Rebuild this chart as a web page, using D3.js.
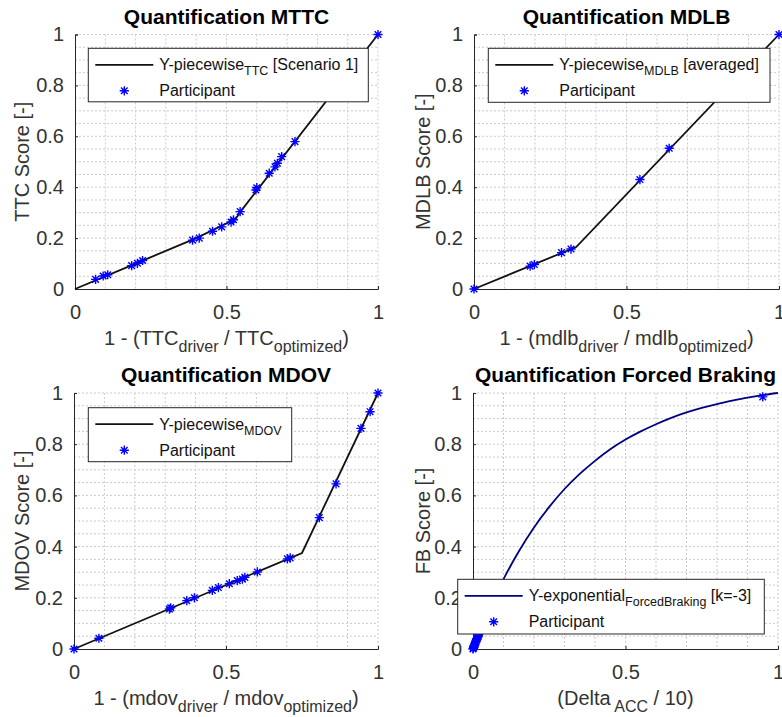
<!DOCTYPE html>
<html>
<head>
<meta charset="utf-8">
<script src="https://cdn.jsdelivr.net/npm/d3@7"></script>
<style>
    body { margin: 0; background: #fff; }
    svg { display: block; font-family: "Liberation Sans", Arial, Helvetica, sans-serif; }
</style>
</head>
<body>
<svg id="chart" width="782" height="717"></svg>
<script>
const WIDTH = 782
const HEIGHT = 717

// tick values shared by all panels
const xTicks = [0, 0.5, 1]
const yTicks = [0, 0.2, 0.4, 0.6, 0.8, 1]

// MTTC
const ttcLineX = [0, 0.2, 0.4, 0.53, 0.55, 1]
const ttcLineY = [0, 0.1, 0.2, 0.275, 0.31, 1]
const ttcX = [0.068, 0.093, 0.108, 0.187, 0.206, 0.223, 0.388, 0.41, 0.454, 0.484, 0.515, 0.523, 0.545, 0.597, 0.6, 0.641, 0.66, 0.668, 0.682, 0.726, 1]
const ttcY = [0.038, 0.051, 0.056, 0.092, 0.101, 0.112, 0.192, 0.2, 0.227, 0.244, 0.263, 0.272, 0.304, 0.389, 0.398, 0.455, 0.48, 0.494, 0.52, 0.579, 1]

// MDLB
const mdlbLineX = [0, 0.335, 1]
const mdlbLineY = [0, 0.165, 1]
const mdlbX = [0, 0.184, 0.198, 0.287, 0.318, 0.544, 0.64, 1]
const mdlbY = [0, 0.09, 0.096, 0.143, 0.157, 0.43, 0.553, 1]

// MDOV
const mdovLineX = [0, 0.75, 1]
const mdovLineY = [0, 0.375, 1]
const mdovX = [0, 0.082, 0.314, 0.318, 0.371, 0.396, 0.455, 0.475, 0.511, 0.537, 0.554, 0.562, 0.603, 0.702, 0.711, 0.807, 0.862, 0.944, 0.974, 1]
const mdovY = [0, 0.042, 0.156, 0.161, 0.189, 0.2, 0.229, 0.24, 0.255, 0.267, 0.273, 0.28, 0.301, 0.352, 0.356, 0.513, 0.645, 0.862, 0.927, 1]

// Forced braking (exponential, k = -3)
const fbLineX = [0, 0.02, 0.05, 0.1, 0.15, 0.2, 0.25, 0.3, 0.35, 0.4, 0.45, 0.5, 0.55, 0.6, 0.65, 0.7, 0.75, 0.8, 0.85, 0.9, 0.95, 1]
const fbLineY = [0, 0.061, 0.147, 0.273, 0.381, 0.475, 0.555, 0.625, 0.684, 0.735, 0.78, 0.818, 0.85, 0.878, 0.903, 0.924, 0.942, 0.957, 0.97, 0.982, 0.992, 1]
const fbX = [0, 0.001, 0.002, 0.003, 0.004, 0.005, 0.006, 0.008, 0.009, 0.01, 0.012, 0.013, 0.015, 0.016, 0.018, 0.02, 0.022, 0.025, 0.028, 0.95]
const fbY = [0, 0.003, 0.006, 0.009, 0.012, 0.016, 0.019, 0.025, 0.028, 0.031, 0.037, 0.04, 0.046, 0.049, 0.055, 0.061, 0.067, 0.075, 0.084, 0.985]

const panels = [
    {
        title: 'Quantification MTTC',
        ylabel: 'TTC Score [-]',
        xlabel: [['1 - (TTC', 0], ['driver', 1], [' / TTC', 0], ['optimized', 1], [')', 0]],
        legend: [['Y-piecewise', 0], ['TTC', 1], [' [Scenario 1]', 0]],
        lineX: ttcLineX, lineY: ttcLineY, ptsX: ttcX, ptsY: ttcY,
        color: '#111',
        box: { left: 75, right: 378, top: 34.5, bottom: 289 },
        leg: { x: 13.3, y: 13.8, w: 280, h: 53.5 },
        ylabelX: 22
    },
    {
        title: 'Quantification MDLB',
        ylabel: 'MDLB Score [-]',
        xlabel: [['1 - (mdlb', 0], ['driver', 1], [' / mdlb', 0], ['optimized', 1], [')', 0]],
        legend: [['Y-piecewise', 0], ['MDLB', 1], [' [averaged]', 0]],
        lineX: mdlbLineX, lineY: mdlbLineY, ptsX: mdlbX, ptsY: mdlbY,
        color: '#111',
        box: { left: 474, right: 779, top: 34.5, bottom: 289 },
        leg: { x: 14.3, y: 13.8, w: 281.7, h: 54 },
        ylabelX: 423
    },
    {
        title: 'Quantification MDOV',
        ylabel: 'MDOV Score [-]',
        xlabel: [['1 - (mdov', 0], ['driver', 1], [' / mdov', 0], ['optimized', 1], [')', 0]],
        legend: [['Y-piecewise', 0], ['MDOV', 1]],
        lineX: mdovLineX, lineY: mdovLineY, ptsX: mdovX, ptsY: mdovY,
        color: '#111',
        box: { left: 74, right: 378, top: 393, bottom: 649 },
        leg: { x: 14.3, y: 14.7, w: 203.4, h: 54 },
        ylabelX: 22
    },
    {
        title: 'Quantification Forced Braking',
        ylabel: 'FB Score [-]',
        xlabel: [['(Delta', 0], [' ACC', 1], [' / 10)', 0]],
        legend: [['Y-exponential', 0], ['ForcedBraking', 1], [' [k=-3]', 0]],
        lineX: fbLineX, lineY: fbLineY, ptsX: fbX, ptsY: fbY,
        color: '#000080',
        curve: d3.curveMonotoneX,
        box: { left: 473, right: 778, top: 393, bottom: 649 },
        leg: { x: -15.3, y: 186.3, w: 306.6, h: 54.7 },
        ylabelX: 423
    }
]

const fmt = v => (v === 0 || v === 1) ? String(v) : String(+v.toFixed(2))

// MATLAB '*' marker
const starPath = r => {
    const d = r * 0.72
    return `M${-r},0L${r},0M0,${-r}L0,${r}M${-d},${-d}L${d},${d}M${-d},${d}L${d},${-d}`
}

const addRich = (sel, parts, mainSize, subSize, drop) => {
    let down = false
    parts.forEach(([txt, sub]) => {
        const t = sel.append('tspan').text(txt)
        if (sub && !down) {
            t.attr('dy', drop).attr('font-size', subSize)
            down = true
        } else if (sub) {
            t.attr('font-size', subSize)
        } else {
            if (down) t.attr('dy', -drop)
            down = false
            t.attr('font-size', mainSize)
        }
    })
}

const svg = d3.select('#chart')

const drawPanel = p => {
    const b = p.box
    const x = d3.scaleLinear().domain([0, 1]).range([b.left, b.right])
    const y = d3.scaleLinear().domain([0, 1]).range([b.bottom, b.top])
    const g = svg.append('g')

    // dotted grid (major + minor)
    const gx = d3.range(0, 1.0001, 0.1)
    const gy = d3.range(0, 1.0001, 0.05)
    g.selectAll('.gx')
        .data(gx.slice(1))
        .join('line')
        .attr('x1', d => x(d)).attr('x2', d => x(d))
        .attr('y1', b.top).attr('y2', b.bottom)
        .attr('stroke', '#cbcbcb')
        .attr('stroke-dasharray', '2,2')
    g.selectAll('.gy')
        .data(gy.slice(1))
        .join('line')
        .attr('y1', d => y(d)).attr('y2', d => y(d))
        .attr('x1', b.left).attr('x2', b.right)
        .attr('stroke', '#cbcbcb')
        .attr('stroke-dasharray', '2,2')

    // axes (left and bottom only, ticks pointing inward)
    const xAxis = d3.axisBottom(x).tickValues(xTicks).tickSize(-3).tickPadding(16).tickFormat(fmt)
    const yAxis = d3.axisLeft(y).tickValues(yTicks).tickSize(-3).tickPadding(11).tickFormat(fmt)

    const ax = g.append('g')
        .attr('transform', `translate(0, ${b.bottom})`)
        .call(xAxis)
    const ay = g.append('g')
        .attr('transform', `translate(${b.left}, 0)`)
        .call(yAxis)

    ;[ax, ay].forEach(a => {
        a.select('.domain').attr('stroke', '#262626').attr('stroke-width', 1)
        a.selectAll('.tick line').attr('stroke', '#262626')
        a.selectAll('.tick text')
            .attr('fill', '#333')
            .attr('font-size', 20)
            .attr('font-family', '"Liberation Sans", Arial, sans-serif')
    })

    // model line
    const line = d3.line()
        .x(d => x(d[0]))
        .y(d => y(d[1]))
        .curve(p.curve || d3.curveLinear)
    g.append('path')
        .datum(p.lineX.map((v, i) => [v, p.lineY[i]]))
        .attr('d', line)
        .attr('fill', 'none')
        .attr('stroke', p.color)
        .attr('stroke-width', 1.8)

    // participants
    g.selectAll('.pt')
        .data(p.ptsX.map((v, i) => [v, p.ptsY[i]]))
        .join('path')
        .attr('transform', d => `translate(${x(d[0])}, ${y(d[1])})`)
        .attr('d', starPath(4.6))
        .attr('stroke', '#0000ff')
        .attr('stroke-width', 1.4)
        .attr('fill', 'none')

    // title
    g.append('text')
        .attr('x', (b.left + b.right) / 2)
        .attr('y', b.top - 11)
        .attr('text-anchor', 'middle')
        .attr('font-size', 21)
        .attr('font-weight', 'bold')
        .attr('fill', '#000')
        .text(p.title)

    // y label
    g.append('text')
        .attr('transform', `translate(${p.ylabelX}, ${(b.top + b.bottom) / 2}) rotate(-90)`)
        .attr('text-anchor', 'middle')
        .attr('dy', '0.35em')
        .attr('font-size', 20)
        .attr('fill', '#333')
        .text(p.ylabel)

    // x label with subscripts
    const xl = g.append('text')
        .attr('x', (b.left + b.right) / 2)
        .attr('y', b.bottom + 56)
        .attr('text-anchor', 'middle')
        .attr('fill', '#333')
    addRich(xl, p.xlabel, 20, 16, 7)

    // legend
    const L = p.leg
    const lg = g.append('g').attr('transform', `translate(${b.left + L.x}, ${b.top + L.y})`)
    lg.append('rect')
        .attr('width', L.w).attr('height', L.h)
        .attr('fill', '#fff')
        .attr('stroke', '#262626')
        .attr('stroke-width', 1)
    lg.append('line')
        .attr('x1', 7).attr('x2', 65)
        .attr('y1', 16.5).attr('y2', 16.5)
        .attr('stroke', p.color)
        .attr('stroke-width', 1.8)
    lg.append('path')
        .attr('transform', 'translate(36, 42.5)')
        .attr('d', starPath(4.6))
        .attr('stroke', '#0000ff')
        .attr('stroke-width', 1.4)
    const lt = lg.append('text')
        .attr('x', 71).attr('y', 22)
        .attr('fill', '#111')
    addRich(lt, p.legend, 16, 12.5, 5)
    lg.append('text')
        .attr('x', 71).attr('y', 48)
        .attr('font-size', 16)
        .attr('fill', '#111')
        .text('Participant')
}

panels.forEach(drawPanel)
</script>
</body>
</html>
